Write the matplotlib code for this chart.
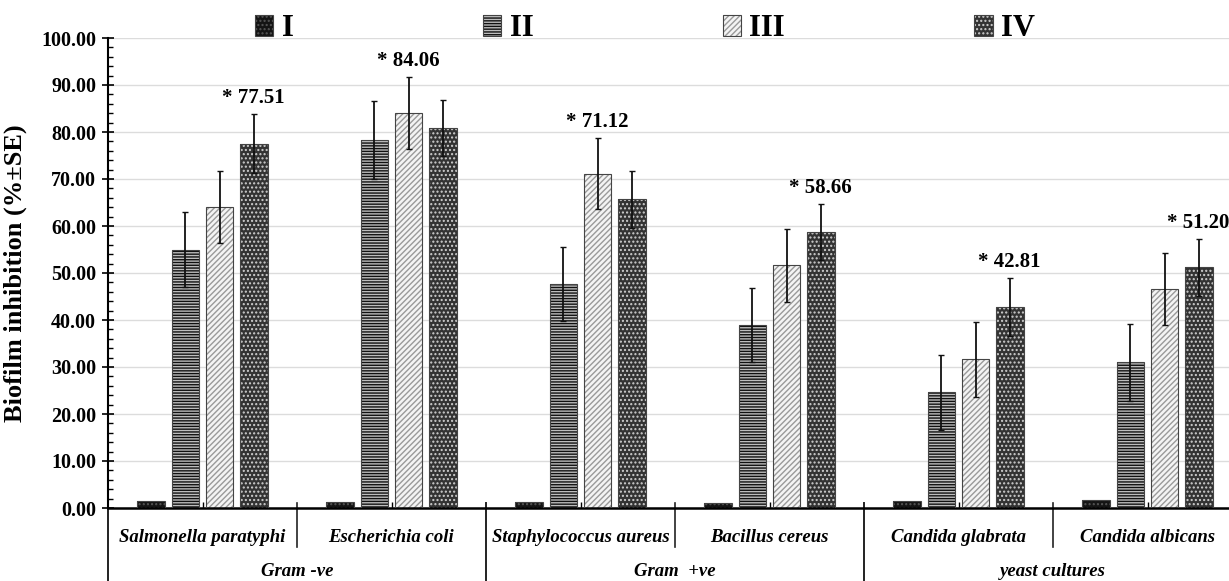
import numpy as np
import matplotlib
matplotlib.use("Agg")
import matplotlib.pyplot as plt
from matplotlib.patches import Patch
from matplotlib.ticker import MultipleLocator
import matplotlib.transforms as mtransforms

plt.rcParams['font.family'] = ['Liberation Serif', 'DejaVu Serif']
plt.rcParams['font.weight'] = 'bold'
plt.rcParams['hatch.linewidth'] = 1.0

# data
species = ["Salmonella paratyphi", "Escherichia coli", "Staphylococcus aureus",
           "Bacillus cereus", "Candida glabrata", "Candida albicans"]
groups = ["Gram -ve", "Gram  +ve", "yeast cultures"]
series = ["I", "II", "III", "IV"]

vals_I = [1.5, 1.3, 1.3, 1.0, 1.4, 1.8]
vals_II = [55.0, 78.3, 47.6, 39.0, 24.6, 31.0]
vals_III = [64.0, 84.06, 71.12, 51.6, 31.6, 46.6]
vals_IV = [77.51, 80.8, 65.7, 58.66, 42.81, 51.20]

se_II = [8.0, 8.2, 7.9, 7.9, 7.9, 8.2]
se_III = [7.7, 7.7, 7.6, 7.8, 7.9, 7.7]
se_IV = [6.3, 6.0, 6.1, 6.0, 6.2, 6.0]

# which series carries the starred label in each species
star_series = [3, 2, 2, 3, 3, 3]

values = [vals_I, vals_II, vals_III, vals_IV]
errors = [None, se_II, se_III, se_IV]

# (face, hatch colour, hatch)
styles = [
    ("#141414", "#555555", "...."),
    ("#bdbdbd", "#111111", "------"),
    ("#f4f4f4", "#9a9a9a", "//////"),
    ("#333333", "#cfcfcf", "...."),
]

fig = plt.figure(figsize=(12.29, 5.81), dpi=100)
ax = fig.add_axes([108 / 1229, 73 / 581, 1121 / 1229, 470 / 581])

x = np.arange(len(species))
width = 0.148
step = 0.18
offsets = (np.arange(4) - 1.5) * step

ax.grid(axis='y', color='#dcdcdc', lw=1.0, zorder=0)
ax.set_axisbelow(True)

handles = []
for i, (vals, err) in enumerate(zip(values, errors)):
    face, hcol, hatch = styles[i]
    pos = x + offsets[i]
    ax.bar(pos, vals, width, color=face, edgecolor=hcol, hatch=hatch, lw=0, zorder=2)
    ax.bar(pos, vals, width, fill=False, edgecolor='#444444', lw=0.8, zorder=3)
    if err is not None:
        ax.errorbar(pos, vals, yerr=err, fmt='none', ecolor='#111111', elinewidth=1.3,
                    capsize=2, capthick=1.0, zorder=4)
    p1 = Patch(facecolor=face, edgecolor=hcol, hatch=hatch, lw=0)
    p2 = Patch(fill=False, edgecolor='#444444', lw=0.8)
    handles.append((p1, p2))

# starred labels
for j, s in enumerate(star_series):
    v = values[s][j]
    top = v + errors[s][j]
    ax.text(x[j] + offsets[s], top + 1.3, f"* {v:.2f}", ha='center', va='bottom',
            fontsize=15, fontweight='bold', zorder=5)

ax.set_ylim(0, 100)
ax.set_xlim(-0.5, -0.5 + 1121 / 189)
ax.set_yticks(np.arange(0, 101, 10))
ax.set_yticklabels([f"{v:.2f}" for v in np.arange(0, 101, 10)], fontsize=14.5, fontweight='bold')
ax.yaxis.set_minor_locator(MultipleLocator(2))
ax.tick_params(axis='y', which='major', direction='inout', length=9, width=1.2, pad=4)
ax.tick_params(axis='y', which='minor', direction='in', length=3.5, width=1.0)
ax.set_xticks(x)
ax.set_xticklabels([])
ax.tick_params(axis='x', which='major', direction='in', length=4, width=1.0)

ax.set_ylabel("Biofilm inhibition (%±SE)", fontsize=19, fontweight='bold', labelpad=10)

for side in ['top', 'right']:
    ax.spines[side].set_visible(False)
ax.spines['left'].set_linewidth(1.5)
ax.spines['bottom'].set_linewidth(1.8)

# two-level category axis
trans = mtransforms.blended_transform_factory(ax.transData, ax.transAxes)
for j, name in enumerate(species):
    ax.text(x[j], -0.062, name, transform=trans, ha='center', va='center',
            fontsize=13.5, fontweight='bold', style='italic')
for k, g in enumerate(groups):
    ax.text(2 * k + 0.5, -0.136, g, transform=trans, ha='center', va='center',
            fontsize=13.5, fontweight='bold', style='italic')

for sx in [0.5, 2.5, 4.5]:
    ax.plot([sx, sx], [0.01, -0.083], transform=trans, color='#222222', lw=1.2, clip_on=False)
for lx in [-0.5, 1.5, 3.5]:
    ax.plot([lx, lx], [0.01, -0.2], transform=trans, color='#222222', lw=1.4, clip_on=False)

fig.legend(handles, series, loc='center', bbox_to_anchor=(645 / 1229, 1 - 29 / 581),
           ncol=4, frameon=False, prop={'size': 22, 'weight': 'bold'},
           handlelength=0.6, handleheight=0.66, handletextpad=0.27,
           columnspacing=6.2, borderpad=0, borderaxespad=0)

fig.savefig("out.png", dpi=100)
